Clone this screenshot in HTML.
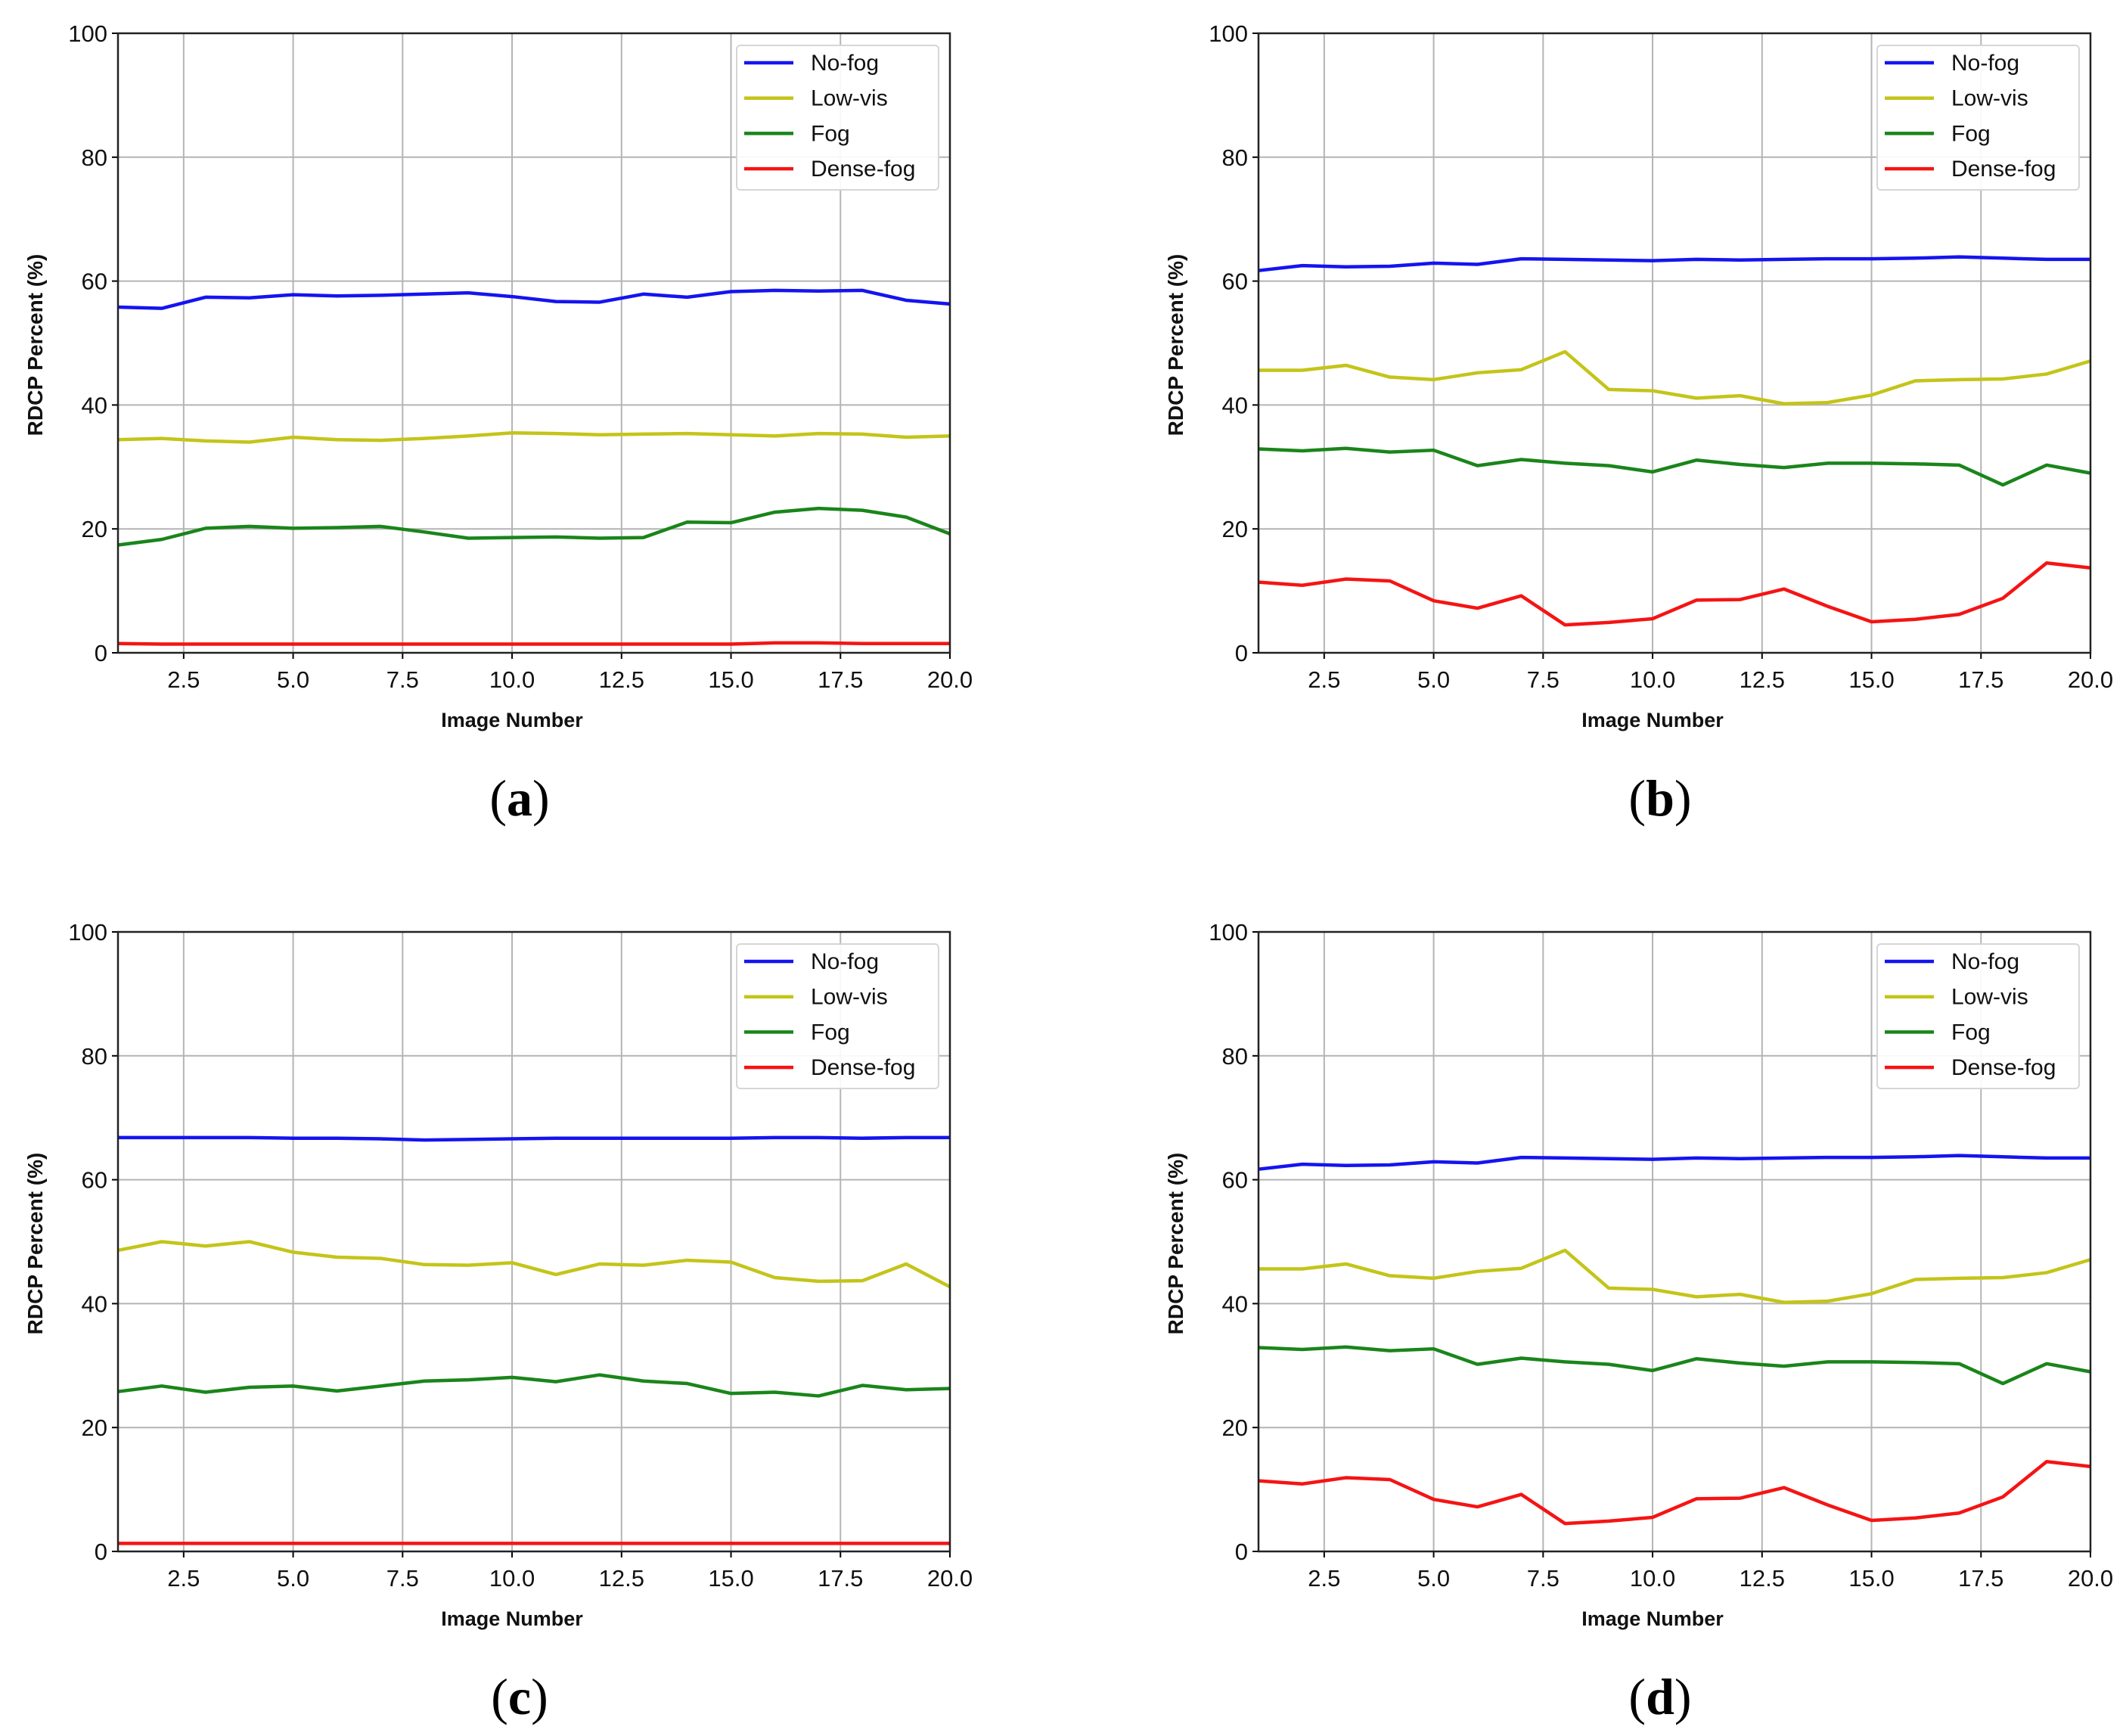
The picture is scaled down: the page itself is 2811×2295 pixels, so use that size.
<!DOCTYPE html>
<html><head><meta charset="utf-8"><style>
html,body{margin:0;padding:0;background:#fff;}
svg{display:block;}
text{font-family:"Liberation Sans","DejaVu Sans",sans-serif;}
text.cap{font-family:"Liberation Serif","DejaVu Serif",serif;}
</style></head><body>
<svg id="fig" width="2811" height="2295" viewBox="0 0 2811 2295" xmlns="http://www.w3.org/2000/svg"></svg>
<script>
const xValues=[1,2,3,4,5,6,7,8,9,10,11,12,13,14,15,16,17,18,19,20];
const xTicks=[2.5,5.0,7.5,10.0,12.5,15.0,17.5,20.0];
const yTicks=[0,20,40,60,80,100];
const seriesNames=["No-fog","Low-vis","Fog","Dense-fog"];
const seriesColors=["#1414f0","#c4c41a","#1a851a","#f51414"];
const aNoFog=[55.8,55.6,57.4,57.3,57.8,57.6,57.7,57.9,58.1,57.5,56.7,56.6,57.9,57.4,58.3,58.5,58.4,58.5,56.9,56.3];
const aLowVis=[34.4,34.6,34.2,34.0,34.8,34.4,34.3,34.6,35.0,35.5,35.4,35.2,35.3,35.4,35.2,35.0,35.4,35.3,34.8,35.0];
const aFog=[17.4,18.3,20.1,20.4,20.1,20.2,20.4,19.5,18.5,18.6,18.7,18.5,18.6,21.1,21.0,22.7,23.3,23.0,21.9,19.2];
const aDense=[1.5,1.4,1.4,1.4,1.4,1.4,1.4,1.4,1.4,1.4,1.4,1.4,1.4,1.4,1.4,1.6,1.6,1.5,1.5,1.5];
const bNoFog=[61.7,62.5,62.3,62.4,62.9,62.7,63.6,63.5,63.4,63.3,63.5,63.4,63.5,63.6,63.6,63.7,63.9,63.7,63.5,63.5];
const bLowVis=[45.6,45.6,46.4,44.5,44.1,45.2,45.7,48.6,42.5,42.3,41.1,41.5,40.2,40.4,41.6,43.9,44.1,44.2,45.0,47.1];
const bFog=[32.9,32.6,33.0,32.4,32.7,30.2,31.2,30.6,30.2,29.2,31.1,30.4,29.9,30.6,30.6,30.5,30.3,27.1,30.3,29.0];
const bDense=[11.4,10.9,11.9,11.6,8.4,7.2,9.2,4.5,4.9,5.5,8.5,8.6,10.3,7.5,5.0,5.4,6.2,8.8,14.5,13.7];
const cNoFog=[66.8,66.8,66.8,66.8,66.7,66.7,66.6,66.4,66.5,66.6,66.7,66.7,66.7,66.7,66.7,66.8,66.8,66.7,66.8,66.8];
const cLowVis=[48.6,50.0,49.3,50.0,48.3,47.5,47.3,46.3,46.2,46.6,44.7,46.4,46.2,47.0,46.7,44.2,43.6,43.7,46.4,42.7];
const cFog=[25.8,26.7,25.7,26.5,26.7,25.9,26.7,27.5,27.7,28.1,27.4,28.5,27.5,27.1,25.5,25.7,25.1,26.8,26.1,26.3];
const cDense=[1.3,1.3,1.3,1.3,1.3,1.3,1.3,1.3,1.3,1.3,1.3,1.3,1.3,1.3,1.3,1.3,1.3,1.3,1.3,1.3];
const dNoFog=bNoFog, dLowVis=bLowVis, dFog=bFog, dDense=bDense;

const NS="http://www.w3.org/2000/svg";
const svg=document.getElementById('fig');
function mk(tag,attrs,parent){const e=document.createElementNS(NS,tag);for(const k in attrs)e.setAttribute(k,attrs[k]);(parent||svg).appendChild(e);return e;}

function panel(id,ox,oy,series){
  const L=ox+156,R=ox+1256,T=oy+44,B=oy+863;
  const g=mk('g',{});
  
  
  const xs=v=>L+(v-1)/(20-1)*(R-L);
  const ys=v=>B-v/100*(B-T);
  for(const t of xTicks){
    const l=mk('line',{x1:xs(t),x2:xs(t),y1:T,y2:B,stroke:'#b4b4b4','stroke-width':2},g);
    
    
    mk('line',{x1:xs(t),x2:xs(t),y1:B,y2:B+8,stroke:'#000','stroke-width':2},g);
    const tx=mk('text',{x:xs(t),y:B+46,'font-size':31,'text-anchor':'middle',fill:'#111'},g);
    tx.textContent=t.toFixed(1);
    
    
  }
  for(const t of yTicks){
    const l=mk('line',{x1:L,x2:R,y1:ys(t),y2:ys(t),stroke:'#b4b4b4','stroke-width':2},g);
    
    
    mk('line',{x1:L-8,x2:L,y1:ys(t),y2:ys(t),stroke:'#000','stroke-width':2},g);
    const tx=mk('text',{x:L-14,y:ys(t)+11,'font-size':31,'text-anchor':'end',fill:'#111'},g);
    tx.textContent=t;
    
    
  }
  series.forEach((vals,i)=>{
    const p=mk('polyline',{points:vals.map((v,j)=>xs(xValues[j])+','+ys(v)).join(' '),fill:'none',stroke:seriesColors[i],'stroke-width':4.5,'stroke-linejoin':'round'},g);
    
    
  });
  const fr=mk('rect',{x:L,y:T,width:R-L,height:B-T,fill:'none',stroke:'#222','stroke-width':2.5},g);
  
  
  const lg=mk('g',{},g);
  
  
  mk('rect',{x:ox+974,y:oy+60,width:267,height:191,rx:5,fill:'#fff','fill-opacity':0.9,stroke:'#d6d6d6','stroke-width':2},lg);
  seriesNames.forEach((n,i)=>{
    const yy=oy+83+i*46.7;
    const e=mk('g',{},lg);
    
    
    mk('line',{x1:ox+984,x2:ox+1049,y1:yy,y2:yy,stroke:seriesColors[i],'stroke-width':4.5},e);
    const t=mk('text',{x:ox+1072,y:yy+10,'font-size':30,fill:'#111'},e);
    t.textContent=n;
  });
  const yl=mk('text',{x:0,y:0,'font-size':28,'font-weight':'bold','text-anchor':'middle',fill:'#111',transform:`translate(${ox+56},${oy+456}) rotate(-90)`},g);
  yl.textContent='RDCP Percent (%)';
  
  
  const xl=mk('text',{x:ox+677,y:oy+961,'font-size':27,'font-weight':'bold','text-anchor':'middle',fill:'#111'},g);
  xl.textContent='Image Number';
  
  
  const cap=mk('text',{x:ox+687,y:oy+1078,'font-size':68,'text-anchor':'middle',fill:'#000','class':'cap'},g);
  cap.innerHTML='(<tspan font-weight="bold">'+id+'</tspan>)';
  
  
}
panel('a',0,0,[aNoFog,aLowVis,aFog,aDense]);
panel('b',1508,0,[bNoFog,bLowVis,bFog,bDense]);
panel('c',0,1188,[cNoFog,cLowVis,cFog,cDense]);
panel('d',1508,1188,[dNoFog,dLowVis,dFog,dDense]);
</script>
</body></html>
